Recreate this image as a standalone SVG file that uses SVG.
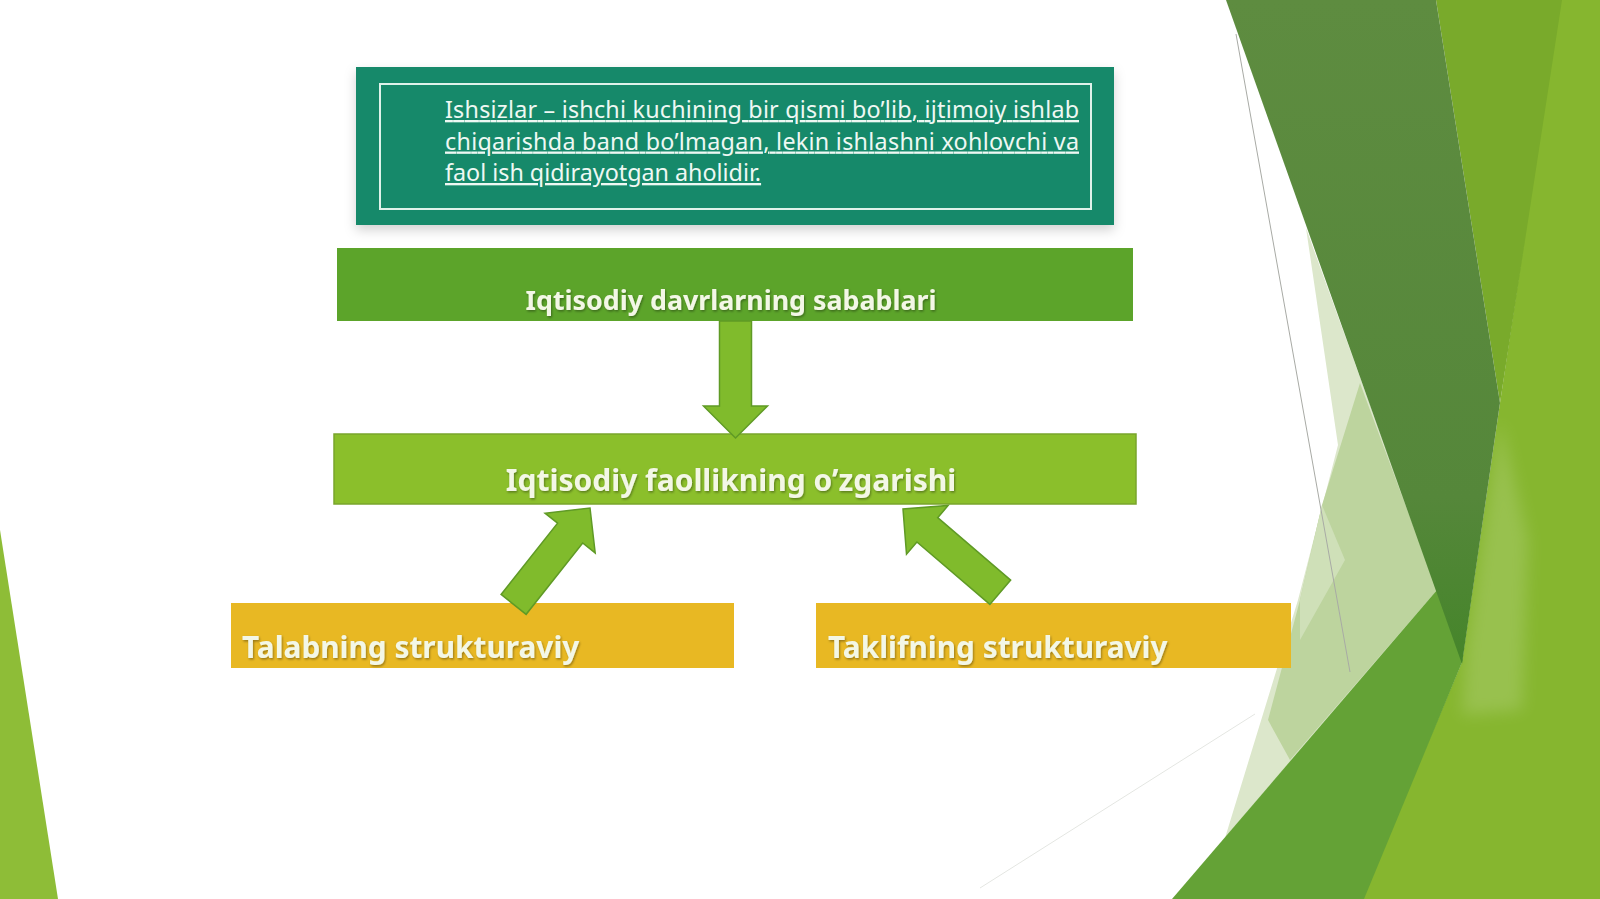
<svg xmlns="http://www.w3.org/2000/svg" width="1600" height="899" viewBox="0 0 1600 899">
  <defs>
    <style>
      .para { font-family: 'Noto Sans', 'Open Sans', 'DejaVu Sans', sans-serif; font-size: 23.3px; fill: #eef8f3; text-decoration: underline; }
      .lbl { font-family: 'Noto Sans', 'Open Sans', 'DejaVu Sans', sans-serif; font-weight: bold; fill: #f3f7e6; }
      .arrow { fill: #80bb2c; stroke: #5f9a25; stroke-width: 1.5; stroke-linejoin: miter; }
    </style>
    <filter id="boxShadow" x="-5%" y="-10%" width="110%" height="130%">
      <feDropShadow dx="0" dy="5" stdDeviation="6" flood-color="#000" flood-opacity="0.18"/>
    </filter>
    <filter id="txtShadow" x="-5%" y="-20%" width="110%" height="150%">
      <feDropShadow dx="1" dy="1.5" stdDeviation="1" flood-color="#000" flood-opacity="0.35"/>
    </filter>
    <filter id="soft" x="-50%" y="-50%" width="200%" height="200%">
      <feGaussianBlur stdDeviation="8"/>
    </filter>
    <linearGradient id="darkBand" x1="0" y1="0" x2="0" y2="1">
      <stop offset="0" stop-color="#5e8c40"/>
      <stop offset="0.75" stop-color="#55873a"/>
      <stop offset="1" stop-color="#45852a"/>
    </linearGradient>
  </defs>

  <!-- background -->
  <rect x="0" y="0" width="1600" height="899" fill="#ffffff"/>
  <g id="background">
    <polygon points="0,530 58,899 0,899" fill="#8ebd37"/>
    <!-- pale translucent area -->
    <polygon points="1306,228 1338,445 1298,600 1225,838 1437,590" fill="#dce7cb"/>
    <polygon points="1360,383 1437,590 1290,760 1268,720 1300,600 1322,505" fill="#bdd49e"/>
    <polygon points="1322,505 1345,560 1300,640 1300,600" fill="#cfe0b8"/>
    <!-- far right light green -->
    <polygon points="1560,0 1600,0 1600,899 1362,899 1462,662 1500,403" fill="#86b62f"/>
    <polygon points="1500,420 1528,540 1522,710 1462,715 1466,650" fill="#ffffff" opacity="0.15" filter="url(#soft)"/>
    <!-- medium green -->
    <polygon points="1436,0 1562,0 1500,403" fill="#79aa2b"/>
    <!-- bottom band -->
    <polygon points="1437,590 1463,660 1364,899 1172,899" fill="#64a236"/>
    <!-- dark band -->
    <polygon points="1226,0 1436,0 1500,403 1462,664" fill="url(#darkBand)"/>
    <!-- thin lines -->
    <line x1="1236" y1="34" x2="1350" y2="672" stroke="#a8aaa5" stroke-width="1"/>
    <line x1="1255" y1="714" x2="980" y2="888" stroke="#e4e6e2" stroke-width="1"/>
  </g>

  <!-- definition box -->
  <g id="node-definition">
    <rect x="356" y="67" width="758" height="158" fill="#17896a" filter="url(#boxShadow)"/>
    <rect x="380" y="84" width="711" height="125" fill="none" stroke="#dff2ea" stroke-width="2"/>
    <text class="para" x="445" y="118" textLength="634" lengthAdjust="spacing">Ishsizlar – ishchi kuchining bir qismi bo’lib, ijtimoiy ishlab</text>
    <text class="para" x="445" y="149.5" textLength="634" lengthAdjust="spacing">chiqarishda band bo’lmagan, lekin ishlashni xohlovchi va</text>
    <text class="para" x="445" y="181">faol ish qidirayotgan aholidir.</text>
  </g>

  <!-- causes box -->
  <g id="node-causes">
    <rect x="337" y="248" width="796" height="73" fill="#5ca42a"/>
    <text class="lbl" x="731" y="310" font-size="26.8" text-anchor="middle" filter="url(#txtShadow)">Iqtisodiy davrlarning sabablari</text>
  </g>

  <!-- activity box -->
  <g id="node-activity">
    <rect x="334" y="434" width="802" height="70" fill="#8bbf2b" stroke="#79a52c" stroke-width="1.5"/>
    <text class="lbl" x="731" y="491" font-size="30" text-anchor="middle" filter="url(#txtShadow)">Iqtisodiy faollikning o’zgarishi</text>
  </g>

  <!-- demand box -->
  <g id="node-demand">
    <rect x="231" y="603" width="503" height="65" fill="#e8b823"/>
    <text class="lbl" x="242" y="658" font-size="29.8" filter="url(#txtShadow)" fill="#fdf6de">Talabning strukturaviy</text>
  </g>

  <!-- supply box -->
  <g id="node-supply">
    <rect x="816" y="603" width="475" height="65" fill="#e8b823"/>
    <text class="lbl" x="828" y="658" font-size="29.8" filter="url(#txtShadow)" fill="#fdf6de">Taklifning strukturaviy</text>
  </g>

  <!-- connectors -->
  <g id="connectors">
    <path class="arrow" transform="translate(735.5,438) rotate(90)" d="M-117,-16 H-32 V-32 L0,0 L-32,32 V16 H-117 Z"/>
    <path class="arrow" transform="translate(590,508) rotate(-51.6)" d="M-123,-16 H-32 V-32 L0,0 L-32,32 V16 H-123 Z"/>
    <path class="arrow" transform="translate(903,509) rotate(-139.45)" d="M-128,-16 H-32 V-32 L0,0 L-32,32 V16 H-128 Z"/>
  </g>
</svg>
